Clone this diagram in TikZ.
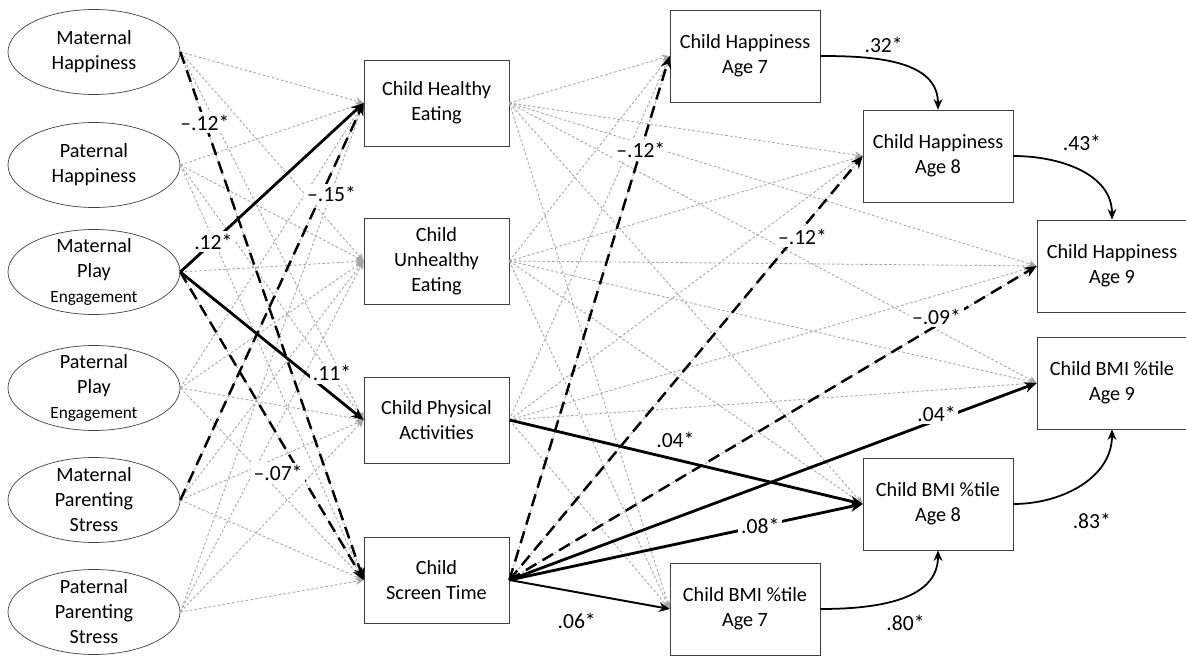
\documentclass[tikz,border=0pt]{standalone}
\usepackage{fontspec}
\setmainfont{Carlito}
\usepackage{tikz}
\usetikzlibrary{arrows.meta,shapes.geometric,positioning}
\newcommand{\boxfont}{\fontsize{11.5}{14.2}\selectfont}
\newcommand{\engfont}{\fontsize{9.8}{12}\selectfont}
\newcommand{\coeffont}{\fontsize{12.3}{14}\selectfont}
\tikzset{
	parent/.style={ellipse,draw=black!75,minimum width=3.44cm,minimum height=1.7cm,inner sep=0pt},
	ptext/.style={align=center,font=\boxfont,inner sep=0pt},
	child/.style={rectangle,draw=black!75,minimum width=2.9cm,minimum height=1.72cm,align=center,font=\boxfont},
	outcome/.style={rectangle,draw=black!75,minimum width=3cm,minimum height=1.84cm,align=center,font=\boxfont},
	nsedge/.style={-{Stealth[width=4pt,length=4.5pt]},color=black!35,dash pattern=on 1.5pt off 1.2pt,line width=0.5pt},
	sigedge/.style={-{Stealth[width=6pt,length=7pt]},color=black,line width=1.6pt},
	sigdash/.style={-{Stealth[width=6pt,length=7pt]},color=black,line width=1.4pt,dash pattern=on 7pt off 4pt},
	midedge/.style={-{Stealth[width=5.5pt,length=6pt]},color=black,line width=1.1pt},
	stabedge/.style={-{Stealth[width=5pt,length=6pt]},color=black,line width=1pt},
	coef/.style={fill=white,inner sep=1.5pt,font=\coeffont}
}
\begin{document}
\begin{tikzpicture}
	\useasboundingbox (0,0) rectangle (23.72,13.1);
	%%%parents
	\node[parent,label={[ptext]center:Maternal\\Happiness}] (mh) at (1.88,12.06) {};
	\node[parent,label={[ptext]center:Paternal\\Happiness}] (ph) at (1.88,9.80) {};
	\node[parent,label={[ptext]center:Maternal\\Play\\{\engfont Engagement}}] (mpe) at (1.88,7.66) {};
	\node[parent,label={[ptext]center:Paternal\\Play\\{\engfont Engagement}}] (ppe) at (1.88,5.34) {};
	\node[parent,label={[ptext]center:Maternal\\Parenting\\Stress}] (mps) at (1.88,3.10) {};
	\node[parent,label={[ptext]center:Paternal\\Parenting\\Stress}] (pps) at (1.88,0.86) {};
	%%%child behaviours
	\node[child] (che) at (8.73,11.04) {Child Healthy\\Eating};
	\node[child] (cue) at (8.73,7.88) {Child\\Unhealthy\\Eating};
	\node[child] (cpa) at (8.73,4.70) {Child Physical\\Activities};
	\node[child] (cst) at (8.73,1.50) {Child\\Screen Time};
	%%%outcomes
	\node[outcome] (ch7) at (14.90,11.98) {Child Happiness\\Age 7};
	\node[outcome] (ch8) at (18.76,9.98) {Child Happiness\\Age 8};
	\node[outcome] (ch9) at (22.24,7.78) {Child Happiness\\Age 9};
	\node[outcome] (bmi9) at (22.24,5.44) {Child BMI \%tile\\Age 9};
	\node[outcome] (bmi8) at (18.76,3.02) {Child BMI \%tile\\Age 8};
	\node[outcome] (bmi7) at (14.90,0.92) {Child BMI \%tile\\Age 7};
	%%%non significant paths
	\foreach \p in {mh,ph,mpe,ppe,mps,pps}
		\foreach \c in {che,cue,cpa,cst}
			\draw[nsedge] (\p.east) -- (\c.west);
	\foreach \c in {che,cue,cpa,cst}
		\foreach \o in {ch7,ch8,ch9,bmi9,bmi8,bmi7}
			\draw[nsedge] (\c.east) -- (\o.west);
	%%%parents -> child
	\draw[sigdash] (mh.east) -- node[coef,pos=0.134] {--.12*} (cst.west);
	\draw[sigedge] (mpe.east) -- node[coef,pos=0.18] {.12*} (che.west);
	\draw[sigdash] (mps.east) -- node[coef,pos=0.77,xshift=0.2cm] {--.15*} (che.west);
	\draw[sigedge] (mpe.east) -- node[coef,pos=0.8,xshift=0.1cm,yshift=0.34cm] {.11*} (cpa.west);
	\draw[sigdash] (mpe.east) -- node[coef,pos=0.653,xshift=-0.44cm] {--.07*} (cst.west);
	%%%child -> outcomes
	\draw[sigdash] (cst.east) -- node[coef,pos=0.82] {--.12*} (ch7.west);
	\draw[sigdash] (cst.east) -- node[coef,pos=0.81,xshift=0.14cm] {--.12*} (ch8.west);
	\draw[sigdash] (cst.east) -- node[coef,pos=0.81,yshift=0.18cm] {--.09*} (ch9.west);
	\draw[sigedge] (cst.east) -- node[coef,pos=0.81,yshift=0.14cm] {.04*} (bmi9.west);
	\draw[sigedge] (cst.east) -- node[coef,pos=0.71] {.08*} (bmi8.west);
	\draw[midedge] (cst.east) -- node[coef,pos=0.42,yshift=-0.58cm] {.06*} (bmi7.west);
	\draw[sigedge] (cpa.east) -- node[coef,pos=0.47,yshift=0.4cm] {.04*} (bmi8.west);
	%%%stability
	\draw[stabedge] (ch7.east) to[out=0,in=90] node[coef,pos=0.4,yshift=0.3cm] {.32*} (ch8.north);
	\draw[stabedge] (ch8.east) to[out=0,in=90] node[coef,pos=0.4,xshift=0.28cm,yshift=0.44cm] {.43*} (ch9.north);
	\draw[stabedge] (bmi7.east) to[out=0,in=-90] node[coef,pos=0.5,xshift=0.14cm,yshift=-0.48cm] {.80*} (bmi8.south);
	\draw[stabedge] (bmi8.east) to[out=0,in=-90] node[coef,pos=0.5,xshift=0.22cm,yshift=-0.72cm] {.83*} (bmi9.south);
\end{tikzpicture}
\end{document}
